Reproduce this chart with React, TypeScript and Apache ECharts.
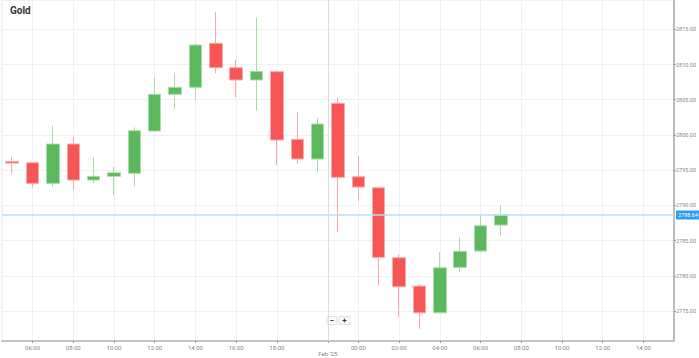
import React, { useEffect, useRef } from "react";
import * as echarts from "echarts";

// hour index of each candle along the x axis (0 = first candle)
const candleIndex = [0, 1, 2, 3, 4, 5, 6, 7, 8, 9, 10, 11, 12, 13, 14, 15, 16, 17, 18, 19, 20, 21, 22, 23, 24];
const openVals = [2796.22, 2796.05, 2793.12, 2798.71, 2793.59, 2794.12, 2794.55, 2800.55, 2805.77, 2806.76, 2813.01, 2809.55, 2807.8, 2808.98, 2799.37, 2796.58, 2804.49, 2794.06, 2792.5, 2782.56, 2778.54, 2774.74, 2781.19, 2783.51, 2787.2];
const closeVals = [2796.0, 2793.12, 2798.71, 2793.59, 2794.12, 2794.63, 2800.6, 2805.77, 2806.76, 2812.77, 2809.55, 2807.8, 2809.03, 2799.28, 2796.58, 2801.55, 2793.98, 2792.6, 2782.61, 2778.44, 2774.74, 2781.14, 2783.47, 2787.1, 2788.64];
const lowVals = [2794.45, 2792.56, 2792.64, 2792.17, 2793.12, 2791.46, 2792.74, 2800.4, 2803.68, 2804.96, 2808.75, 2805.34, 2803.44, 2795.72, 2795.87, 2794.69, 2786.16, 2790.61, 2778.68, 2774.18, 2772.47, 2774.7, 2780.53, 2783.33, 2785.68];
const highVals = [2796.82, 2796.1, 2801.31, 2799.74, 2796.82, 2795.48, 2801.08, 2808.18, 2808.84, 2813.0, 2817.5, 2810.64, 2816.7, 2809.2, 2803.21, 2802.36, 2805.28, 2797.0, 2792.6, 2783.04, 2778.82, 2783.37, 2785.45, 2788.48, 2790.0];

// x tick positions and their labels
const xTickPositions = [1, 3, 5, 7, 9, 11, 13, 15.5, 17, 19, 21, 23, 25, 27, 29, 31];
const xTickLabels = ["06:00", "08:00", "10:00", "12:00", "14:00", "16:00", "18:00", "Feb '25", "00:00", "02:00", "04:00", "06:00", "08:00", "10:00", "12:00", "14:00"];

// y tick values
const yTicks = [2775, 2780, 2785, 2790, 2795, 2800, 2805, 2810, 2815];
const currentPrice = 2788.64;

export default function App() {
  const ref = useRef<HTMLDivElement>(null);
  useEffect(() => {
    if (!ref.current) return;
    const chart = echarts.init(ref.current, undefined, { renderer: "svg" });
    const rows = candleIndex.map((k, i) => [k, openVals[i], closeVals[i], lowVals[i], highVals[i]]);
    const labelMap: Record<string, string> = {};
    xTickPositions.forEach((p, i) => (labelMap[String(p)] = xTickLabels[i]));
    const font = "Roboto, 'Liberation Sans', Arial, sans-serif";
    chart.setOption({
      animation: false,
      backgroundColor: "#ffffff",
      grid: {
        left: 2,
        right: 22.3,
        top: 0,
        bottom: 17,
        show: true,
        borderColor: "#e6e6e6",
        borderWidth: 1,
      },
      xAxis: {
        type: "value",
        min: -0.5,
        max: 32.5,
        axisLine: { show: true, onZero: false, lineStyle: { color: "#b5b5b5", width: 1.5 } },
        axisTick: { show: true, length: 2, customValues: xTickPositions, lineStyle: { color: "#999" } },
        axisLabel: {
          customValues: xTickPositions,
          fontSize: 6,
          color: "#888",
          fontFamily: font,
          margin: 3,
          formatter: (v: number) => {
            const s = labelMap[String(v)] ?? "";
            return s.startsWith("Feb") ? "\n" + s : s;
          },
        },
        splitLine: { show: true, lineStyle: { color: "#f1f1f1", width: 1 } },
      },
      yAxis: {
        type: "value",
        position: "right",
        min: 2770.74,
        max: 2819.16,
        scale: true,
        axisLine: { show: true, onZero: false, lineStyle: { color: "#a8a8a8", width: 1.5 } },
        axisTick: { show: true, length: 2, customValues: yTicks, lineStyle: { color: "#999" } },
        axisLabel: {
          customValues: yTicks,
          fontSize: 5.5,
          color: "#888",
          fontFamily: font,
          margin: 2,
          formatter: (v: number) => v.toFixed(2),
        },
        splitLine: { show: true, lineStyle: { color: "#f1f1f1", width: 1 } },
      },
      series: [
        {
          type: "candlestick",
          data: rows,
          encode: { x: 0, y: [1, 2, 3, 4] },
          barWidth: 13,
          itemStyle: {
            color: "#5cb85c",
            color0: "#f75656",
            borderColor: "#a9dca9",
            borderColor0: "#fba8a8",
            borderWidth: 1,
          },
          markLine: {
            symbol: "none",
            silent: true,
            data: [
              {
                yAxis: currentPrice,
                lineStyle: { color: "#bcdcf4", width: 1.5, type: "solid" },
                label: {
                  show: true,
                  position: "end",
                  distance: 2,
                  formatter: currentPrice.toFixed(2),
                  backgroundColor: "#2c9cf0",
                  color: "#ffffff",
                  fontSize: 5.5,
                  fontFamily: font,
                  padding: [2, 2, 1, 2],
                  borderRadius: 1,
                },
              },
              {
                xAxis: 15.5,
                lineStyle: { color: "#dddddd", width: 1, type: "solid" },
                label: { show: false },
              },
            ],
          },
        },
      ],
      graphic: [
        {
          type: "text",
          left: 10,
          top: 5,
          style: { text: "Gold", fontSize: 10, fontWeight: "bold", fill: "#333", fontFamily: font },
        },
        {
          type: "rect",
          shape: { x: 327, y: 316.5, width: 10, height: 8, r: 1 },
          style: { fill: "#fafafa", stroke: "#e0e0e0", lineWidth: 1 },
        },
        {
          type: "rect",
          shape: { x: 339, y: 316.5, width: 11, height: 8, r: 1 },
          style: { fill: "#fafafa", stroke: "#e0e0e0", lineWidth: 1 },
        },
        {
          type: "text",
          x: 332,
          y: 320.5,
          style: { text: "−", fontSize: 8, fontWeight: "bold", fill: "#333", align: "center", verticalAlign: "middle", fontFamily: font },
        },
        {
          type: "text",
          x: 344.5,
          y: 320.5,
          style: { text: "+", fontSize: 8, fontWeight: "bold", fill: "#333", align: "center", verticalAlign: "middle", fontFamily: font },
        },
      ],
    });
    return () => chart.dispose();
  }, []);
  return (
    <div
      ref={ref}
      style={{ position: "absolute", left: 0, top: 0, width: 699, height: 358, background: "#fff" }}
    />
  );
}
